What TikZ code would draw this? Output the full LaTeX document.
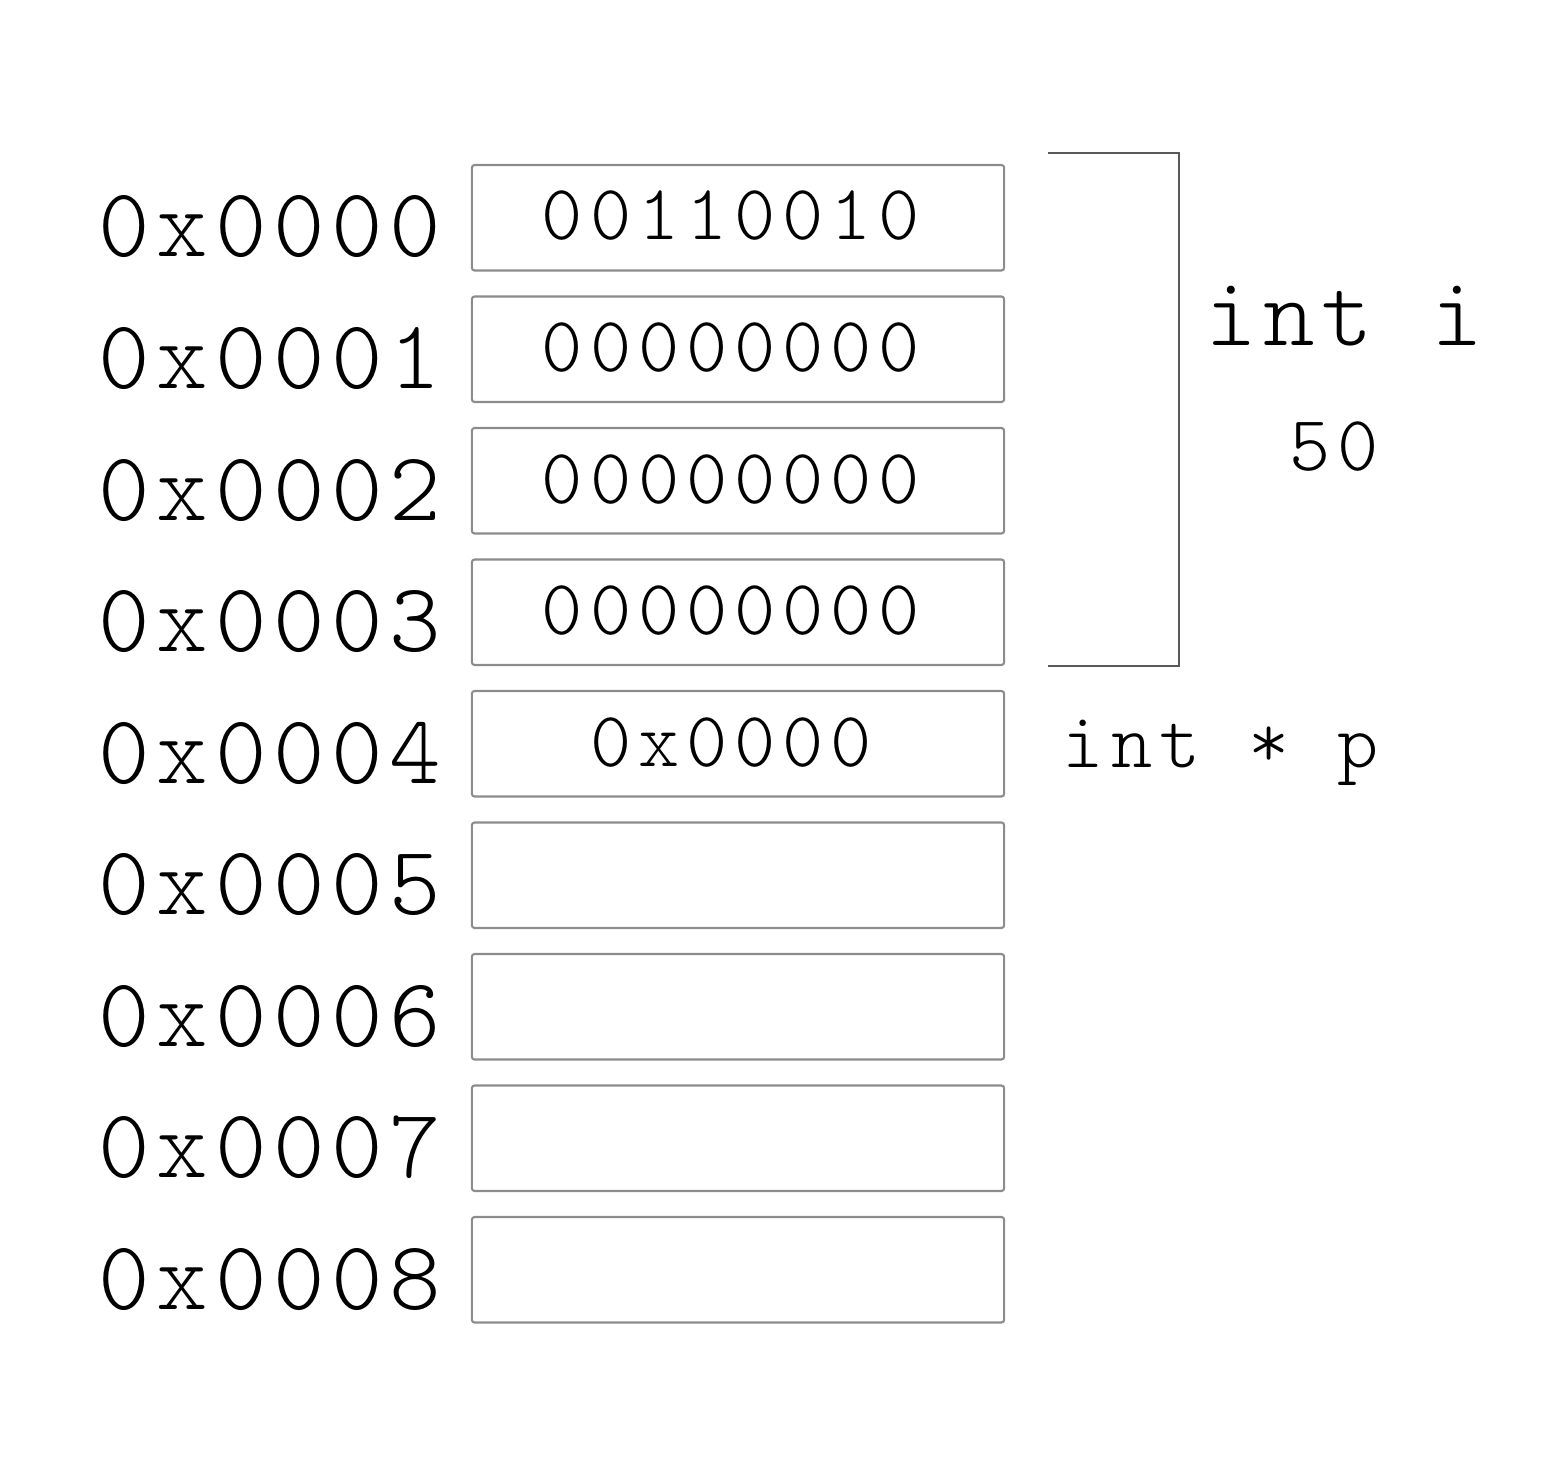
\documentclass[tikz,border=0pt]{standalone}
\usepackage{fontspec}
\IfFontExistsTF{Latin Modern Mono Light}
  {\newfontfamily\memfont[LetterSpace=6.8]{Latin Modern Mono Light}
   \newfontfamily\memfontsm[LetterSpace=8.9]{Latin Modern Mono Light}}
  {\newfontfamily\memfont[LetterSpace=6.8]{Latin Modern Mono}
   \newfontfamily\memfontsm[LetterSpace=8.9]{Latin Modern Mono}}
\tikzset{
  cell/.style={draw=black!45, line width=0.6pt, rounded corners=0.8pt,
    minimum width=5.32cm, minimum height=1.055cm, inner sep=0pt},
  addr/.style={anchor=base, inner sep=0pt, font=\memfont\fontsize{27.9}{30}\selectfont},
  val/.style={anchor=base, inner sep=0pt, font=\memfontsm\fontsize{22.3}{26}\selectfont},
  brace/.style={draw=black!65, line width=0.6pt}
}
\begin{document}
\begin{tikzpicture}[x=0.01cm, y=-0.01cm]
 \useasboundingbox (0,0) rectangle (1542,1476);

 %memory cells
 \def\dy{131.5}
 \foreach \i/\name/\bits in {0/0x0000/00110010, 1/0x0001/00000000, 2/0x0002/00000000,
     3/0x0003/00000000, 4/0x0004/0x0000, 5/0x0005/, 6/0x0006/, 7/0x0007/, 8/0x0008/} {
   \node[cell] (cell\i) at (738, 217.75 + \i*\dy) {};
   \node[addr] (addr\i) at (270, 257 + \i*\dy) {\name};
   \node[val] (bits\i) at (731, 240 + \i*\dy) {\bits};
 }

 %int i
 \draw[brace] (1048,153) -| (1179,666) -- (1048,666);
 \node[addr] (inti) at (1344,345) {int i};
 \node[val] (fifty) at (1334,470) {50};

 %int * p
 \node[val] (intp) at (1221,767) {int * p};

\end{tikzpicture}
\end{document}
